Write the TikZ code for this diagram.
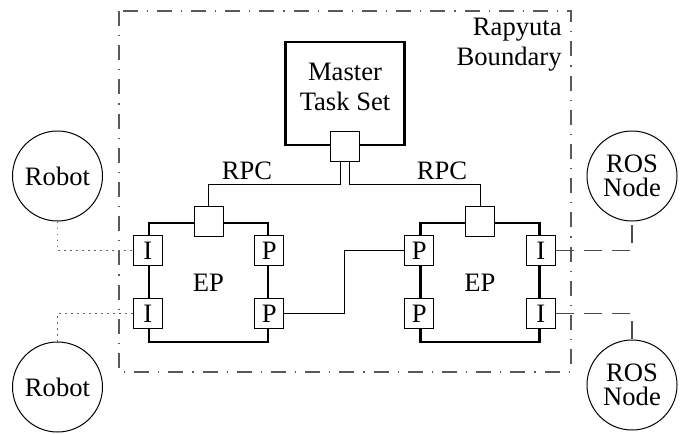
\documentclass[tikz,border=0pt]{standalone}
\usepackage{fontspec}
\setmainfont{Liberation Serif}
\usetikzlibrary{calc}

\tikzset{
	bigbox/.style={draw, line width=1.3pt, inner sep=0pt},
	port/.style={draw, fill=white, line width=0.5pt, minimum width=14.5pt, minimum height=15pt, inner sep=0pt},
	extnode/.style={draw, circle, line width=0.5pt, minimum size=45pt, inner sep=0pt, align=center},
	wire/.style={line width=0.5pt},
	robotlink/.style={line width=0.6pt, black!60, dash pattern=on 0.6pt off 2.4pt},
	roslink/.style={line width=0.6pt, black!70, dash pattern=on 9pt off 5pt},
	boundary/.style={line width=0.6pt, black!65, dash pattern=on 7.5pt off 4.5pt on 0.6pt off 4.5pt}
}

\begin{document}
\begin{tikzpicture}[x=0.5pt, y=-0.5pt, font=\fontsize{13.3}{15}\selectfont]
	\useasboundingbox (0,0) rectangle (683,433);
	% Rapyuta boundary
	\draw[boundary] (119,11) rectangle (571,372);
	\node(bndlabel)[anchor=east, align=right, inner sep=0pt] at (562,45) {Rapyuta\\Boundary};
	% master
	\node(master)[bigbox, minimum width=59.5pt, minimum height=51.5pt,
		label={[align=center, yshift=3.25pt]center:Master\\Task Set}] at (345,93.5) {};
	\node(mport)[port] at (master.south) {};
	% endpoints
	\node(lep)[bigbox, minimum size=59.5pt] at (208.5,282.5) {EP};
	\node(rep)[bigbox, minimum size=59.5pt] at (480,282.5) {EP};
	\node(lport)[port] at (lep.north) {};
	\node(rport)[port] at (rep.north) {};
	\node(li1)[port] at ([yshift=-14.5pt]lep.north west) {I};
	\node(li2)[port] at ([yshift=15pt]lep.south west) {I};
	\node(lp1)[port] at ([yshift=-14.5pt]lep.north east) {P};
	\node(lp2)[port] at ([yshift=15pt]lep.south east) {P};
	\node(rp1)[port] at ([yshift=-14.5pt]rep.north west) {P};
	\node(rp2)[port] at ([yshift=15pt]rep.south west) {P};
	\node(ri1)[port] at ([yshift=-14.5pt]rep.north east) {I};
	\node(ri2)[port] at ([yshift=15pt]rep.south east) {I};
	% outside
	\node(robot1)[extnode] at (57.5,176) {Robot};
	\node(robot2)[extnode] at (57.5,387) {Robot};
	\node(ros1)[extnode, font=\fontsize{13.3}{12}\selectfont] at (632,176) {ROS\\Node};
	\node(ros2)[extnode, font=\fontsize{13.3}{12}\selectfont] at (632,385) {ROS\\Node};
	% rpc
	\draw[wire] ([xshift=-2.25pt]mport.south) -- ++(0,23) -| (lport.north);
	\draw[wire] ([xshift=2.25pt]mport.south) -- ++(0,23) -| (rport.north);
	\node(rpcl)[] at (247,171) {RPC};
	\node(rpcr)[] at (442,171) {RPC};
	\draw[wire] (lp2.east) -- ++(60,0) |- (rp1.west);
	% links
	\draw[robotlink] (robot1.south) |- (li1.west);
	\draw[robotlink] (robot2.north) |- (li2.west);
	\draw[roslink] (ri1.east) -| (ros1.south);
	\draw[roslink] (ri2.east) -| (ros2.north);
\end{tikzpicture}
\end{document}
